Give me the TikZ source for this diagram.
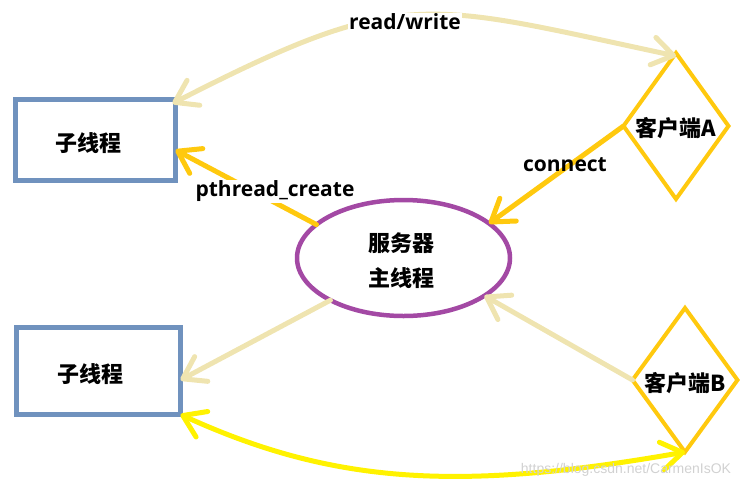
\documentclass[tikz,border=0pt]{standalone}
\usepackage{fontspec}
\setmainfont{Open Sans}
\newfontfamily\cjk{Noto Sans CJK SC}
\newfontfamily\wmfont{Liberation Sans}
\usetikzlibrary{shapes.geometric,arrows.meta}
\definecolor{boxblue}{RGB}{112,146,190}
\definecolor{gold}{RGB}{255,201,14}
\definecolor{khaki}{RGB}{239,228,176}
\definecolor{brightyellow}{RGB}{255,242,0}
\definecolor{violet}{RGB}{163,73,164}
\begin{document}
\begin{tikzpicture}[x=1pt,y=-1pt,
  thr/.style={draw=boxblue, line width=5pt, inner sep=0pt, outer sep=0pt},
  srv/.style={ellipse, draw=violet, line width=4.5pt, minimum width=213pt, minimum height=116pt, inner sep=0pt, outer sep=0pt},
  cli/.style={diamond, draw=gold, line width=4pt, minimum width=105pt, minimum height=146pt, inner sep=0pt, outer sep=0pt},
  cjktxt/.style={font=\fontsize{22}{26}\selectfont\cjk\bfseries, inner sep=0pt},
  lab/.style={font=\fontsize{21}{25}\selectfont\bfseries, inner sep=1pt},
  conn/.style={line width=5pt, line cap=round},
  barb/.tip={Straight Barb[length=21pt,width=28pt,round]},
]
\path[use as bounding box] (0,0) rectangle (755,491);

% nodes
\node[thr, minimum width=160pt, minimum height=81pt] (t1) at (95.5,140) {};
\node[thr, minimum width=164pt, minimum height=87pt] (t2) at (98.5,371) {};
\node[srv] (srv) at (403.5,258) {};
\node[cli] (ca) at (676,126) {};
\node[cli, minimum height=144pt] (cb) at (685,380) {};

% connectors
\draw[conn, draw=khaki, barb-barb]
  ([shift={(-3,4)}]t1.north east) .. controls (404,-15) and (422,2) .. ([yshift=-3pt]ca.north);
\draw[conn, draw=gold, -barb] (srv.159) -- ([yshift=-10pt]t1.east);
\draw[conn, draw=gold, -barb] (ca.west) -- (srv.22);
\draw[conn, draw=khaki, -barb] (srv.210) -- ([yshift=-9pt]t2.east);
\draw[conn, draw=khaki, -barb] (cb.west) -- (srv.335);
\draw[conn, draw=brightyellow, barb-barb]
  (t2.south east) .. controls (333,484) and (458,492) .. (cb.south);

% texts
\node[cjktxt] (t1txt) at (88,143) {子线程};
\node[cjktxt] (t2txt) at (90,374) {子线程};
\node[cjktxt, align=center, font=\fontsize{22}{35}\selectfont\cjk\bfseries] (srvtxt) at (401,261) {服务器\\主线程};
\node[cjktxt] (catxt) at (676,128) {客户端A};
\node[cjktxt] (cbtxt) at (685,383) {客户端B};
\node[lab, fill=white] (rw) at (405,22) {read/write};
\node[lab, fill=white] (pc) at (275,191) {pthread\_create};
\node[lab] (cn) at (565,165) {connect};
\node[font=\fontsize{14}{16}\selectfont\wmfont, text=black!18, inner sep=0pt] (wm) at (626,470) {https://blog.csdn.net/CarmenIsOK};
\end{tikzpicture}
\end{document}
